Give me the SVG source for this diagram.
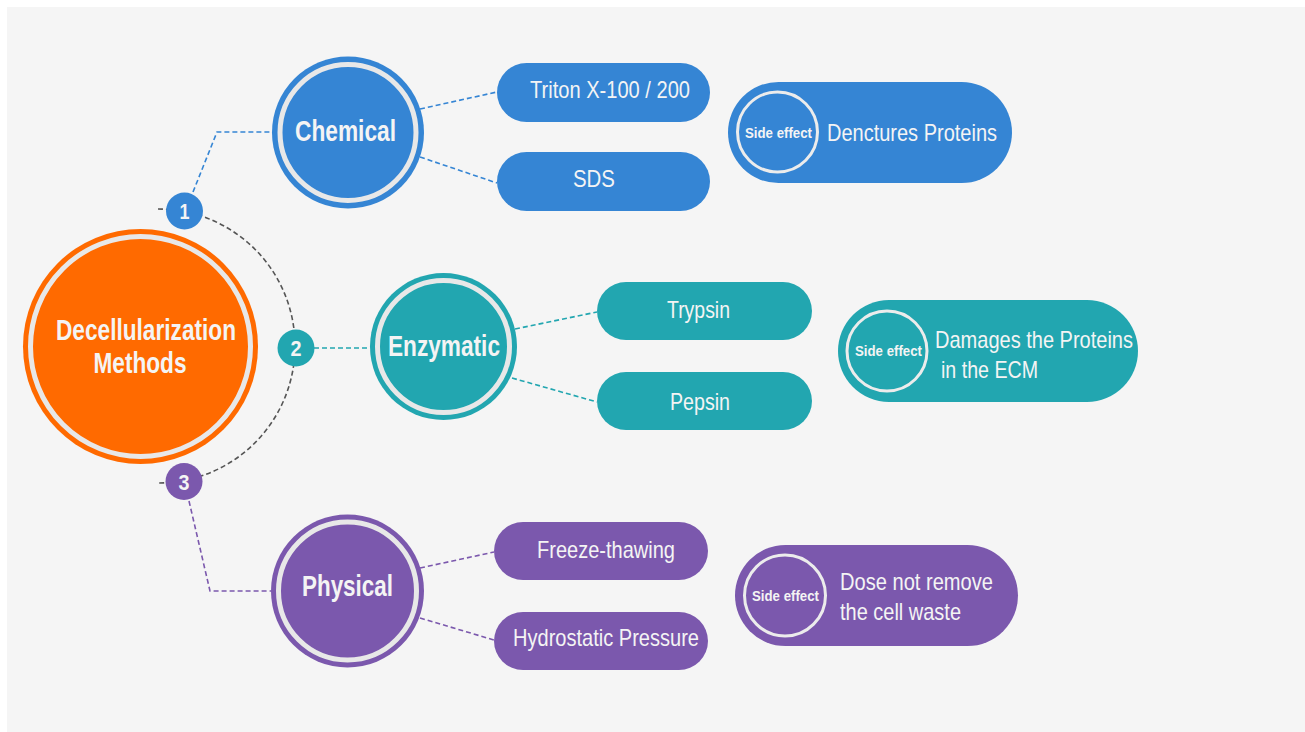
<svg xmlns="http://www.w3.org/2000/svg" width="1305" height="732" viewBox="0 0 1305 732">
<style>
text{font-family:"Liberation Sans",Arial,sans-serif;fill:#f4f4f4;text-anchor:middle}
.b{font-weight:bold}
.ring{fill:none;stroke:#e8e8e8;stroke-width:5}
.se{fill:none;stroke:#ececec;stroke-width:3}
.dash{fill:none;stroke-width:1.6;stroke-dasharray:5 3}
.blue{fill:#3585d4}.teal{fill:#22a6b0}.purple{fill:#7b58ad}.orange{fill:#ff6a00}
</style>
<rect x="0" y="0" width="1305" height="732" fill="#ffffff"/>
<rect x="7" y="7" width="1298" height="725" fill="#f5f5f5"/>
<g id="connectors">
<path class="dash" stroke="#555555" d="M158,209 A137,137 0 0 1 158,483"/>
<path class="dash" stroke="#3585d4" d="M193,192 L217,132 L272,132"/>
<path class="dash" stroke="#3585d4" d="M420,109 L497,92"/>
<path class="dash" stroke="#3585d4" d="M420,157 L497,183"/>
<path class="dash" stroke="#22a6b0" d="M314,348 L370,348"/>
<path class="dash" stroke="#22a6b0" d="M515,329 L597,312"/>
<path class="dash" stroke="#22a6b0" d="M512,378 L597,402"/>
<path class="dash" stroke="#7b58ad" d="M189,501 L210,591 L271,591"/>
<path class="dash" stroke="#7b58ad" d="M420,568 L494,552"/>
<path class="dash" stroke="#7b58ad" d="M420,618 L494,640"/>
</g>
<g id="main">
<circle class="orange" cx="140.5" cy="346.5" r="117.5"/>
<circle class="ring" cx="140.5" cy="346.5" r="110"/>
<text class="b" x="146" y="340" font-size="29" textLength="180" lengthAdjust="spacingAndGlyphs">Decellularization</text>
<text class="b" x="140" y="373" font-size="29" textLength="93" lengthAdjust="spacingAndGlyphs">Methods</text>
</g>
<g id="badge1">
<circle class="blue" cx="184.5" cy="211" r="18.5"/>
<text class="b" x="184.5" y="219" font-size="22" textLength="10" lengthAdjust="spacingAndGlyphs">1</text>
</g>
<g id="badge2">
<circle class="teal" cx="296" cy="348" r="18.5"/>
<text class="b" x="296" y="356" font-size="22" textLength="11" lengthAdjust="spacingAndGlyphs">2</text>
</g>
<g id="badge3">
<circle class="purple" cx="184" cy="481.5" r="18.5"/>
<text class="b" x="184" y="489.5" font-size="22" textLength="11" lengthAdjust="spacingAndGlyphs">3</text>
</g>
<g id="chemical">
<circle class="blue" cx="348" cy="132.5" r="76"/>
<circle class="ring" cx="348" cy="132.5" r="68"/>
<text class="b" x="345.5" y="141" font-size="29" textLength="101" lengthAdjust="spacingAndGlyphs">Chemical</text>
</g>
<g id="triton">
<rect class="blue" x="497" y="63" width="213" height="59" rx="29.5"/>
<text x="610" y="98" font-size="24" textLength="160" lengthAdjust="spacingAndGlyphs">Triton X-100 / 200</text>
</g>
<g id="sds">
<rect class="blue" x="497" y="152" width="213" height="59" rx="29.5"/>
<text x="594" y="187" font-size="24" textLength="42" lengthAdjust="spacingAndGlyphs">SDS</text>
</g>
<g id="chem-side">
<rect class="blue" x="728" y="82" width="284" height="101" rx="50.5"/>
<circle class="se" cx="777.5" cy="132" r="40"/>
<text class="b" x="778.5" y="138" font-size="15" textLength="67" lengthAdjust="spacingAndGlyphs">Side effect</text>
<text x="912" y="141" font-size="24" textLength="170" lengthAdjust="spacingAndGlyphs">Denctures Proteins</text>
</g>
<g id="enzymatic">
<circle class="teal" cx="443.5" cy="346.5" r="73.5"/>
<circle class="ring" cx="443.5" cy="346.5" r="66"/>
<text class="b" x="444" y="356" font-size="29" textLength="112" lengthAdjust="spacingAndGlyphs">Enzymatic</text>
</g>
<g id="trypsin">
<rect class="teal" x="597" y="282" width="215" height="58" rx="29"/>
<text x="698.5" y="318" font-size="24" textLength="63" lengthAdjust="spacingAndGlyphs">Trypsin</text>
</g>
<g id="pepsin">
<rect class="teal" x="597" y="372" width="215" height="58" rx="29"/>
<text x="700" y="410" font-size="24" textLength="60" lengthAdjust="spacingAndGlyphs">Pepsin</text>
</g>
<g id="enz-side">
<rect class="teal" x="838" y="300" width="300" height="102" rx="51"/>
<circle class="se" cx="887" cy="351" r="40"/>
<text class="b" x="888.5" y="356" font-size="15" textLength="67" lengthAdjust="spacingAndGlyphs">Side effect</text>
<text x="1034" y="348" font-size="24" textLength="198" lengthAdjust="spacingAndGlyphs">Damages the Proteins</text>
<text x="989.5" y="378" font-size="24" textLength="97" lengthAdjust="spacingAndGlyphs">in the ECM</text>
</g>
<g id="physical">
<circle class="purple" cx="347.5" cy="591" r="76.5"/>
<circle class="ring" cx="347.5" cy="591" r="69"/>
<text class="b" x="347.5" y="596" font-size="29" textLength="91" lengthAdjust="spacingAndGlyphs">Physical</text>
</g>
<g id="freeze">
<rect class="purple" x="494" y="522" width="214" height="58" rx="29"/>
<text x="606" y="558" font-size="24" textLength="138" lengthAdjust="spacingAndGlyphs">Freeze-thawing</text>
</g>
<g id="hydro">
<rect class="purple" x="494" y="612" width="214" height="58" rx="29"/>
<text x="606" y="646" font-size="24" textLength="186" lengthAdjust="spacingAndGlyphs">Hydrostatic Pressure</text>
</g>
<g id="phys-side">
<rect class="purple" x="735" y="545" width="283" height="101" rx="50.5"/>
<circle class="se" cx="785" cy="595.5" r="40.5"/>
<text class="b" x="785.5" y="601" font-size="15" textLength="67" lengthAdjust="spacingAndGlyphs">Side effect</text>
<text x="916.5" y="590" font-size="24" textLength="153" lengthAdjust="spacingAndGlyphs">Dose not remove</text>
<text x="900.5" y="620" font-size="24" textLength="121" lengthAdjust="spacingAndGlyphs">the cell waste</text>
</g>
</svg>
